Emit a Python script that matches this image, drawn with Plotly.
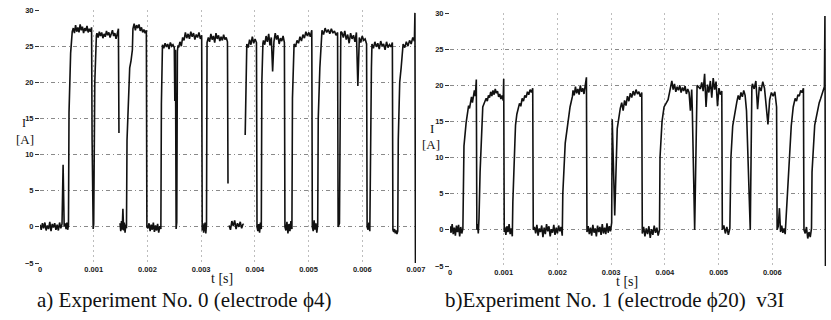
import numpy as np
import plotly.graph_objects as go

# ---------------- data ----------------
t_ticks = [0, 0.001, 0.002, 0.003, 0.004, 0.005, 0.006, 0.007]
t_ticktext = ["0", "0.001", "0.002", "0.003", "0.004", "0.005", "0.006", "0.007"]
i_ticks = [-5, 0, 5, 10, 15, 20, 25, 30]

# Experiment No. 0 : current I [A] vs time, as segments (t_start, t_end, sampled values)
current_a = [
    (0.0, 0.00041, [0.3, -0.4, 0.5, -0.2, 0.6, -0.5, 0.2, -0.3, 0.7, -0.6, 0.4, -0.1, 0.5, -0.4, 0.3, -0.5, 0.6, -0.2, 0.4]),
    (0.00043, 0.00045, [8.6, 0.1]),
    (0.00047, 0.00053, [0.5, -0.3, 0.6, -0.4, 0.2]),
    (0.00054, 0.00060, [15.8, 24.0, 27.0]),
    (0.00062, 0.00096, [27.5, 26.8, 27.9, 27.0, 27.6, 26.9, 28.0, 27.2, 27.7, 26.8, 27.5, 27.1, 27.8, 26.9, 27.4, 27.0, 27.6]),
    (0.00097, 0.00101, [12.0, 0.0, -0.3, 0.4, 8.0]),
    (0.00102, 0.00105, [20.0, 26.5]),
    (0.00106, 0.00146, [26.8, 26.2, 27.0, 26.4, 26.9, 26.1, 26.7, 26.3, 27.1, 26.5, 26.9, 26.2, 26.6, 27.2, 26.4, 26.8, 26.0, 26.7, 27.4]),
    (0.00147, 0.00148, [13.0, None]),
    (0.00149, 0.00161, [0.5, -0.6, 0.8, -0.4, 2.5, -0.5, 0.6, -0.8, 0.3, -0.2]),
    (0.00162, 0.00172, [12.0, 18.0, 22.0, 23.0, 24.5]),
    (0.00173, 0.00198, [27.4, 28.1, 27.2, 27.9, 27.5, 28.0, 27.1, 27.6, 26.9, 27.3, 26.8, 27.2]),
    (0.00199, 0.00225, [0.0, -0.2, 0.5, -0.6, 0.3, -0.4, 0.6, -0.7, 0.2, -0.5, 0.4, -0.8, 0.1, -0.3]),
    (0.00226, 0.00227, [17.0, 24.8]),
    (0.00228, 0.00250, [25.2, 24.7, 25.4, 24.9, 25.3, 24.6, 25.5, 25.0, 25.2, 24.8]),
    (0.00251, 0.00257, [17.4, 24.5, -0.3, 0.6, 24.3, 25.1]),
    (0.00258, 0.00301, [24.8, 25.6, 25.0, 26.2, 25.8, 26.9, 26.1, 26.7, 26.0, 27.0, 26.3, 26.8, 25.9, 26.6, 26.2, 26.9, 26.0, 26.5]),
    (0.00302, 0.00310, [-0.5, 0.5, -0.8, -0.2, 0.6, -0.9, 0.3]),
    (0.00311, 0.00349, [25.5, 26.2, 25.6, 26.7, 25.9, 26.4, 25.5, 26.8, 26.0, 26.5, 25.7, 26.3, 25.8, 26.6, 25.9, 26.2, 25.6]),
    (0.00350, 0.00351, [6.0, None]),
    (0.00352, 0.00378, [0.2, -0.4, 0.8, 0.1, 0.9, -0.3, 0.5, 0.0, 0.7, -0.2, 0.4]),
    (0.00379, 0.00380, [0.3, None]),
    (0.00382, 0.00384, [12.7, 25.0]),
    (0.00385, 0.00403, [25.3, 24.8, 25.9, 25.2, 26.3, 25.4, 26.0, 25.5]),
    (0.00404, 0.00412, [0.0, -0.6, 0.4, -0.8, 0.6, -0.3]),
    (0.00413, 0.00415, [20.0, 25.4]),
    (0.00416, 0.00455, [25.8, 25.2, 26.4, 25.6, 26.7, 25.1, 26.2, 21.5, 25.6, 26.8, 25.9, 26.5, 25.3, 26.1, 25.7, 26.4, 25.5]),
    (0.00456, 0.00469, [0.0, -0.5, 0.7, -0.9, 0.4, -0.6, 0.8, -0.3]),
    (0.00470, 0.00472, [17.8, 25.0]),
    (0.00473, 0.00506, [25.3, 24.9, 25.8, 25.4, 26.3, 25.7, 26.6, 26.1, 27.0, 26.4, 26.9, 26.3, 27.2]),
    (0.00507, 0.00517, [0.0, -0.6, 0.9, -0.4, 0.5, -0.8, 0.3]),
    (0.00518, 0.00524, [15.0, 22.0, 27.0]),
    (0.00525, 0.00554, [27.2, 26.6, 27.5, 26.9, 27.3, 26.7, 27.4, 26.8, 27.1, 26.5, 26.9]),
    (0.00555, 0.00560, [0.0, 0.5, 27.0]),
    (0.00562, 0.00608, [26.9, 26.2, 27.1, 25.9, 26.6, 25.4, 26.8, 26.0, 26.5, 25.6, 26.9, 19.5, 26.2, 25.5, 26.4, 25.8, 26.0, 25.3]),
    (0.00609, 0.00614, [0.0, -0.4, 0.6, -0.6]),
    (0.00615, 0.00617, [12.0, 22.0]),
    (0.00618, 0.00656, [25.3, 24.7, 25.6, 24.9, 25.4, 24.6, 25.7, 25.0, 25.3, 24.5, 25.6, 24.8, 25.2, 24.9, 25.5]),
    (0.00657, 0.00666, [-0.4, -0.7, -0.3, -0.9, -0.5, -1.0, -0.6]),
    (0.00667, 0.00675, [12.0, 20.0, 22.0, 24.5]),
    (0.00676, 0.00697, [25.3, 24.8, 25.6, 25.0, 25.8, 25.3, 26.2, 25.7]),
    (0.00698, 0.00699, [29.6, -5.3]),
]

# Experiment No. 1 : current I [A] vs time
current_b = [
    (0.0, 0.00024, [0.5, -0.4, 0.8, -0.6, 0.3, -0.8, 0.6, -0.3, 0.7, -0.9, 0.4, -0.5, 0.2]),
    (0.00026, 0.00030, [11.6, 14.8]),
    (0.00031, 0.00049, [15.3, 16.4, 17.2, 16.8, 17.9, 18.4, 17.6, 18.9, 19.3, 18.5, 20.8]),
    (0.00050, 0.00054, [0.0, 0.8, -0.5, 1.6]),
    (0.00056, 0.00060, [8.0, 15.0]),
    (0.00061, 0.00099, [17.0, 17.4, 17.9, 18.2, 17.8, 18.6, 18.3, 19.1, 18.5, 19.3, 18.7, 19.5, 18.9, 19.2, 18.4, 18.8, 18.1, 18.6, 17.9]),
    (0.00100, 0.00101, [20.9, -0.3]),
    (0.00102, 0.00116, [0.4, -0.7, 0.5, -0.3, 0.8, -0.6, 0.2, -0.9]),
    (0.00117, 0.00121, [3.9, 12.5]),
    (0.00122, 0.00154, [14.5, 16.0, 16.8, 17.5, 17.1, 18.2, 17.8, 18.6, 18.3, 19.1, 18.7, 19.4, 19.0, 19.6]),
    (0.00155, 0.00209, [0.0, 0.4, -0.5, 0.7, -0.8, 0.2, -0.3, 0.6, -1.0, 0.3, -0.6, 0.8, -0.2, 0.5, -0.9, 0.1, -0.4, 0.7, -0.7, 0.3, -0.5, 0.6, -0.2, 0.4, -0.8]),
    (0.00210, 0.00228, [5.0, 12.0, 14.4, 17.0, 18.5]),
    (0.00229, 0.00254, [19.3, 18.6, 19.8, 18.9, 19.5, 18.7, 20.0, 19.1, 19.6, 18.8, 20.3, 21.1]),
    (0.00255, 0.00301, [-0.3, 0.5, -0.6, 0.3, -0.8, 0.7, -0.4, 0.2, -0.9, 0.6, -0.3, 0.4, -0.7, 0.8, -0.5, 0.3, -0.6, 0.9, -0.4, 0.5, -0.2, 1.0]),
    (0.00302, 0.00316, [15.3, 2.0, 14.0, 16.7]),
    (0.00317, 0.00357, [16.8, 17.6, 16.5, 17.9, 17.2, 18.5, 17.8, 18.9, 18.3, 19.2, 18.6, 19.4, 18.8, 19.1, 18.4, 19.0]),
    (0.00358, 0.00390, [-0.5, 0.4, -0.9, 0.2, -0.6, 0.5, -1.1, 0.1, -0.7, 0.6, -0.4, 0.3, -0.8, 0.0]),
    (0.00391, 0.00406, [10.0, 15.0, 17.0, 17.5, 18.0]),
    (0.00413, 0.00450, [20.6, 19.4, 20.2, 19.1, 19.8, 19.3, 20.0, 19.0, 19.7, 19.2, 19.9, 18.8, 19.5, 19.0, 16.5, 19.4]),
    (0.00451, 0.00460, [17.0, 0.0, 20.0]),
    (0.00466, 0.00506, [19.5, 20.4, 19.2, 21.6, 17.0, 20.1, 19.0, 20.6, 18.3, 21.0, 19.4, 20.5, 17.1, 19.6, 18.7, 19.2]),
    (0.00507, 0.00521, [0.0, 0.6, -0.5, 0.4, -0.7, 0.2]),
    (0.00523, 0.00533, [10.0, 14.4, 16.0, 17.7]),
    (0.00534, 0.00552, [17.7, 18.6, 18.0, 19.0, 18.4, 19.3, 18.6, 16.5]),
    (0.00559, 0.00562, [0.0, 19.8]),
    (0.00563, 0.00608, [20.2, 19.5, 20.6, 16.7, 19.8, 19.2, 20.5, 19.6, 17.5, 14.6, 18.0, 19.0, 18.5, 19.1, 17.0]),
    (0.00609, 0.00624, [0.0, 0.5, 3.0, -0.3, 0.6, -0.4, 0.2, -0.6]),
    (0.00628, 0.00639, [5.0, 10.0, 14.4, 17.0]),
    (0.00640, 0.00658, [17.5, 18.2, 17.8, 18.7, 18.5, 19.3, 19.0, 19.6]),
    (0.00659, 0.00673, [0.0, -0.5, 0.4, -1.2, -0.3, -1.0, 0.2]),
    (0.00674, 0.00684, [8.0, 14.5, 16.5]),
    (0.00685, 0.00697, [16.8, 17.6, 18.1, 18.7, 19.2, 19.8]),
    (0.00698, 0.00699, [29.6, -5.4]),
]

caption_a = "a) Experiment No. 0 (electrode \u03d54)"
caption_b = "b)Experiment No. 1 (electrode \u03d520)  v3I"


def build(segments):
    ts, vs = [], []
    for t0, t1, vals in segments:
        n = len(vals)
        times = [t0] if n == 1 else list(np.linspace(t0, t1, n))
        ts.extend(times)
        vs.extend(vals)
    return ts, vs


ta, ia = build(current_a)
tb, ib = build(current_b)

W, H = 831, 320


def px(x):
    return x / W


def py(y):
    return 1 - y / H


fig = go.Figure()
line_style = dict(color="#111111", width=1.6)
fig.add_trace(go.Scatter(x=ta, y=ia, mode="lines", line=line_style, xaxis="x", yaxis="y", hoverinfo="skip"))
fig.add_trace(go.Scatter(x=tb, y=ib, mode="lines", line=line_style, xaxis="x2", yaxis="y2", hoverinfo="skip"))

tickfont = dict(family="Liberation Sans, Arial", size=7.5, color="#1a1a1a", weight="bold")


def xaxis(domain, anchor):
    return dict(
        domain=domain, anchor=anchor, range=[0, 0.007], automargin=False,
        tickvals=t_ticks, ticktext=t_ticktext, ticks="", tickfont=tickfont,
        showline=False, zeroline=False, showgrid=False,
        minor=dict(tickvals=t_ticks[1:-1], showgrid=True, gridcolor="#bdbdbd",
                   griddash="2px,3px", gridwidth=1),
    )


def yaxis(domain, anchor):
    return dict(
        domain=domain, anchor=anchor, range=[-5, 30], automargin=False,
        tickvals=i_ticks, ticks="outside", ticklen=4, tickwidth=1, tickcolor="#333",
        tickfont=tickfont, showline=False, zeroline=False, showgrid=False,
        minor=dict(tickvals=i_ticks[1:-1], showgrid=True, gridcolor="#8a8a8a",
                   griddash="4px,3px,1px,3px", gridwidth=1),
    )


fig.update_layout(
    width=W, height=H,
    margin=dict(l=0, r=0, t=0, b=0, autoexpand=False),
    paper_bgcolor="white", plot_bgcolor="white",
    showlegend=False,
    xaxis=xaxis([px(40), px(416)], "y"),
    yaxis=yaxis([py(263), py(10)], "x"),
    xaxis2=xaxis([px(450), px(826)], "y2"),
    yaxis2=yaxis([py(266), py(13)], "x2"),
)

serif = "Liberation Serif, Times New Roman, serif"
ann = [
    dict(text="I", x=px(24), y=py(123), font=dict(family=serif, size=12, color="#111")),
    dict(text="[A]", x=px(25), y=py(139), font=dict(family=serif, size=13, color="#111")),
    dict(text="I", x=px(432), y=py(128), font=dict(family=serif, size=13, color="#111")),
    dict(text="[A]", x=px(431), y=py(144), font=dict(family=serif, size=13, color="#111")),
    dict(text="t [s]", x=px(222), y=py(278), font=dict(family=serif, size=14, color="#111")),
    dict(text="t [s]", x=px(627), y=py(281), font=dict(family=serif, size=14, color="#111")),
    dict(text=caption_a, x=px(35), y=py(300), xanchor="left", font=dict(family=serif, size=21, color="#111")),
    dict(text=caption_b, x=px(443), y=py(300), xanchor="left", font=dict(family=serif, size=21, color="#111")),
]
for a in ann:
    a.setdefault("xanchor", "center")
    fig.add_annotation(xref="paper", yref="paper", yanchor="middle", showarrow=False, **a)

# remove the browser's default 8px page margin so the figure fills the 831x320 window
fig.write_html(
    "out.html",
    config={"displayModeBar": False, "staticPlot": True},
    post_script="document.body.style.margin='0';document.body.style.overflow='hidden';",
)
